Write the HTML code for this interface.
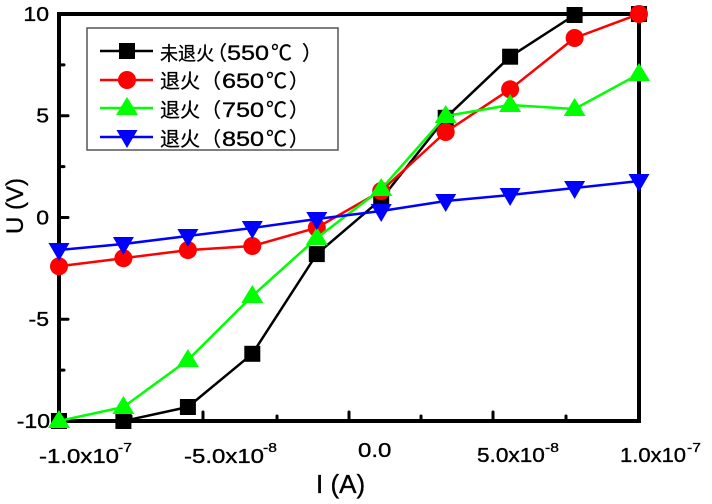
<!DOCTYPE html>
<html>
<head>
<meta charset="utf-8">
<style>
html,body{margin:0;padding:0;background:#fff;}
svg{display:block;}
.t{font-family:"Liberation Sans",Arial,sans-serif;fill:#000;stroke:#000;stroke-width:0.35px;}
.c{font-family:"Noto Sans CJK SC","WenQuanYi Zen Hei",sans-serif;fill:#000;stroke:#000;stroke-width:0.3px;}
</style>
</head>
<body>
<svg width="712" height="504" viewBox="0 0 712 504" xmlns="http://www.w3.org/2000/svg">
<rect x="0" y="0" width="712" height="504" fill="#fff"/>

<!-- frame -->
<rect x="59" y="14" width="580" height="407" fill="none" stroke="#000" stroke-width="4"/>

<!-- y ticks -->
<g stroke="#000" stroke-width="3" stroke-linecap="round">
<line x1="59" y1="115.75" x2="68" y2="115.75"/>
<line x1="59" y1="217.5" x2="68" y2="217.5"/>
<line x1="59" y1="319.25" x2="68" y2="319.25"/>
<line x1="59" y1="64.9" x2="64" y2="64.9"/>
<line x1="59" y1="166.6" x2="64" y2="166.6"/>
<line x1="59" y1="268.4" x2="64" y2="268.4"/>
<line x1="59" y1="370.1" x2="64" y2="370.1"/>
<!-- x ticks -->
<line x1="203" y1="421" x2="203" y2="412"/>
<line x1="349" y1="421" x2="349" y2="412"/>
<line x1="493" y1="421" x2="493" y2="412"/>
<line x1="131" y1="421" x2="131" y2="416"/>
<line x1="277" y1="421" x2="277" y2="416"/>
<line x1="421" y1="421" x2="421" y2="416"/>
<line x1="566" y1="421" x2="566" y2="416"/>
</g>

<!-- y tick labels -->
<g class="t" font-size="20" text-anchor="end">
<text transform="translate(49,21) scale(1.15,1)">10</text>
<text transform="translate(49,122.5) scale(1.15,1)">5</text>
<text transform="translate(49,224.5) scale(1.15,1)">0</text>
<text transform="translate(49,326) scale(1.15,1)">-5</text>
<text transform="translate(50,428) scale(1.15,1)">-10</text>
</g>

<!-- x tick labels -->
<g class="t">
<text transform="translate(39,463) scale(1.2,1)" font-size="20">-1.0x10</text>
<text transform="translate(118,452) scale(1.2,1)" font-size="13">-7</text>
<text transform="translate(184,463) scale(1.2,1)" font-size="20">-5.0x10</text>
<text transform="translate(263,452) scale(1.2,1)" font-size="13">-8</text>
<text transform="translate(358,457) scale(1.2,1)" font-size="20">0.0</text>
<text transform="translate(477,462) scale(1.13,1)" font-size="20">5.0x10</text>
<text transform="translate(545,452) scale(1.2,1)" font-size="13">-8</text>
<text transform="translate(620,462) scale(1.1,1)" font-size="20">1.0x10</text>
<text transform="translate(687,452) scale(1.2,1)" font-size="13">-7</text>
</g>

<!-- axis titles -->
<text class="t" x="316" y="493" font-size="26">I (A)</text>
<text class="t" font-size="24" text-anchor="middle" transform="translate(23,206) rotate(-90)">U (V)</text>

<!-- Black series -->
<polyline fill="none" stroke="#000" stroke-width="2.5" stroke-linejoin="round"
 points="59,421 123.4,421 187.9,407 252.3,353.8 316.8,254.1 381.2,199.2 445.7,117.8 510.1,56.7 574.6,15 639,14"/>
<g fill="#000">
<rect x="51" y="413" width="16" height="16"/>
<rect x="115.4" y="413" width="16" height="16"/>
<rect x="179.9" y="399" width="16" height="16"/>
<rect x="244.3" y="345.8" width="16" height="16"/>
<rect x="308.8" y="246.1" width="16" height="16"/>
<rect x="373.2" y="191.2" width="16" height="16"/>
<rect x="437.7" y="109.8" width="16" height="16"/>
<rect x="502.1" y="48.7" width="16" height="16"/>
<rect x="566.6" y="7" width="16" height="16"/>
<rect x="631" y="6" width="16" height="16"/>
</g>

<!-- Red series -->
<polyline fill="none" stroke="#f00" stroke-width="2.5" stroke-linejoin="round"
 points="59,266.3 123.4,258.2 187.9,250.1 252.3,246 316.8,227.7 381.2,191 445.7,132 510.1,89.3 574.6,38 639,14"/>
<g fill="#f00">
<circle cx="59" cy="266.3" r="9"/>
<circle cx="123.4" cy="258.2" r="9"/>
<circle cx="187.9" cy="250.1" r="9"/>
<circle cx="252.3" cy="246" r="9"/>
<circle cx="316.8" cy="227.7" r="9"/>
<circle cx="381.2" cy="191" r="9"/>
<circle cx="445.7" cy="132" r="9"/>
<circle cx="510.1" cy="89.3" r="9"/>
<circle cx="574.6" cy="38" r="9"/>
<circle cx="639" cy="14" r="9"/>
</g>

<!-- Green series -->
<polyline fill="none" stroke="#0f0" stroke-width="2.5" stroke-linejoin="round"
 points="59,421 123.4,407 187.9,360 252.3,296 316.8,238 381.2,189 445.7,116 510.1,105 574.6,109 639,74"/>
<g fill="#0f0">
<polygon points="59,410 70,428 48,428"/>
<polygon points="123.4,396 134.4,414 112.4,414"/>
<polygon points="187.9,349 198.9,367 176.9,367"/>
<polygon points="252.3,285 263.3,303 241.3,303"/>
<polygon points="316.8,227 327.8,245 305.8,245"/>
<polygon points="381.2,178 392.2,196 370.2,196"/>
<polygon points="445.7,105 456.7,123 434.7,123"/>
<polygon points="510.1,94 521.1,112 499.1,112"/>
<polygon points="574.6,98 585.6,116 563.6,116"/>
<polygon points="639,63 650,81 628,81"/>
</g>

<!-- Blue series -->
<polyline fill="none" stroke="#00f" stroke-width="2.5" stroke-linejoin="round"
 points="59,250 123.4,244 187.9,236 252.3,228 316.8,219 381.2,211 445.7,201 510.1,195 574.6,188 639,181"/>
<g fill="#00f">
<polygon points="48.5,243 69.5,243 59,261"/>
<polygon points="112.9,237 133.9,237 123.4,255"/>
<polygon points="177.4,229 198.4,229 187.9,247"/>
<polygon points="241.8,221 262.8,221 252.3,239"/>
<polygon points="306.3,212 327.3,212 316.8,230"/>
<polygon points="370.7,204 391.7,204 381.2,222"/>
<polygon points="435.2,194 456.2,194 445.7,212"/>
<polygon points="499.6,188 520.6,188 510.1,206"/>
<polygon points="564.1,181 585.1,181 574.6,199"/>
<polygon points="628.5,174 649.5,174 639,192"/>
</g>

<!-- Legend -->
<rect x="87" y="28" width="251" height="122" fill="#fff" stroke="#555" stroke-width="1.5"/>
<line x1="100" y1="51" x2="153" y2="51" stroke="#000" stroke-width="2.5"/>
<rect x="119" y="43" width="16" height="16" fill="#000"/>
<line x1="100" y1="80" x2="153" y2="80" stroke="#f00" stroke-width="2.5"/>
<circle cx="127" cy="80" r="9" fill="#f00"/>
<line x1="100" y1="108" x2="153" y2="108" stroke="#0f0" stroke-width="2.5"/>
<polygon points="127,97 138,115 116,115" fill="#0f0"/>
<line x1="100" y1="137" x2="153" y2="137" stroke="#00f" stroke-width="2.5"/>
<polygon points="116.5,130 137.5,130 127,148" fill="#00f"/>

<!-- row 1 -->
<text class="c" transform="translate(160,60) scale(0.95,1)" font-size="19">未退火</text>
<text class="c" x="207" y="60" font-size="20">（</text>
<text class="t" transform="translate(227,60) scale(1.2,1)" font-size="21">550</text>
<text class="c" x="271" y="60" font-size="21">℃</text>
<text class="c" x="302" y="60" font-size="20">）</text>

<!-- row 2 -->
<text class="c" x="160" y="88" font-size="20">退火</text>
<text class="c" x="201" y="88" font-size="20">（</text>
<text class="t" transform="translate(222,88) scale(1.2,1)" font-size="21">650</text>
<text class="c" x="266" y="88" font-size="21">℃</text>
<text class="c" x="289" y="88" font-size="20">）</text>

<!-- row 3 -->
<text class="c" x="160" y="117" font-size="20">退火</text>
<text class="c" x="201" y="117" font-size="20">（</text>
<text class="t" transform="translate(222,117) scale(1.2,1)" font-size="21">750</text>
<text class="c" x="266" y="117" font-size="21">℃</text>
<text class="c" x="289" y="117" font-size="20">）</text>

<!-- row 4 -->
<text class="c" x="160" y="146" font-size="20">退火</text>
<text class="c" x="201" y="146" font-size="20">（</text>
<text class="t" transform="translate(222,146) scale(1.2,1)" font-size="21">850</text>
<text class="c" x="266" y="146" font-size="21">℃</text>
<text class="c" x="289" y="146" font-size="20">）</text>
</svg>
</body>
</html>
